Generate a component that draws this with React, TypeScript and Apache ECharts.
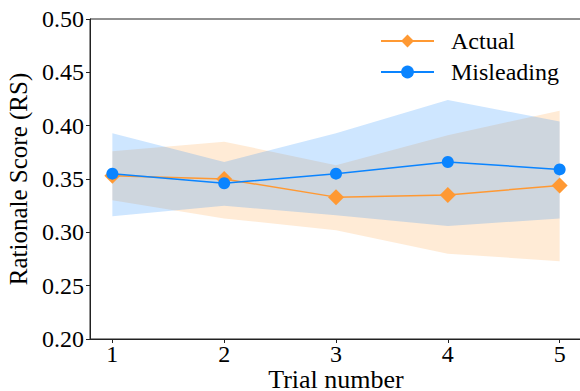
import React, { useEffect, useRef } from "react";
import * as echarts from "echarts";

const trials = [1, 2, 3, 4, 5];
const actual = [0.353, 0.35, 0.333, 0.335, 0.344];
const misleading = [0.355, 0.346, 0.355, 0.366, 0.359];
const actualLow = [0.33, 0.313, 0.302, 0.28, 0.273];
const actualHigh = [0.376, 0.385, 0.363, 0.391, 0.414];
const misLow = [0.315, 0.325, 0.316, 0.306, 0.313];
const misHigh = [0.393, 0.366, 0.393, 0.424, 0.404];
const yTicks = [0.2, 0.25, 0.3, 0.35, 0.4, 0.45, 0.5];

const ORANGE = "#ff9933";
const BLUE = "#0a84ff";
const FONT = "Times New Roman, serif";

function bandSeries(name: string, low: number[], high: number[], fill: string) {
  return {
    type: "custom",
    name,
    silent: true,
    data: trials.map((x, i) => [x, low[i], high[i]]),
    encode: { x: 0, y: [1, 2] },
    renderItem: (params: any, api: any) => {
      if (params.dataIndex !== 0) return null;
      const pts: number[][] = [];
      trials.forEach((x, i) => pts.push(api.coord([x, high[i]])));
      for (let i = trials.length - 1; i >= 0; i--) pts.push(api.coord([trials[i], low[i]]));
      return { type: "polygon", shape: { points: pts }, style: { fill } };
    },
    z: 1,
  };
}

export default function App() {
  const ref = useRef<HTMLDivElement>(null);
  useEffect(() => {
    if (!ref.current) return;
    const chart = echarts.init(ref.current, undefined, { renderer: "svg" });
    chart.setOption({
      animation: false,
      textStyle: { fontFamily: FONT },
      grid: {
        left: 90,
        top: 19,
        width: 492,
        height: 320,
        show: true,
        borderColor: "#222",
        borderWidth: 1,
        containLabel: false,
        outerBoundsMode: "none",
      },
      legend: {
        orient: "vertical",
        left: 380,
        top: 29,
        padding: 0,
        itemWidth: 53,
        itemHeight: 16,
        itemGap: 7,
        data: ["Actual", "Misleading"],
        textStyle: { fontSize: 24, fontFamily: FONT, color: "#000", padding: [0, 0, 0, 12] },
      },
      xAxis: {
        type: "value",
        min: 0.8,
        max: 5.2,
        name: "Trial number",
        nameLocation: "middle",
        nameGap: 27,
        nameMoveOverlap: false,
        nameTextStyle: { fontSize: 26, fontFamily: FONT, color: "#000", lineHeight: 26 },
        axisLine: { show: true, lineStyle: { color: "#222", width: 1 } },
        axisTick: { show: true, customValues: trials, length: 4, lineStyle: { color: "#222" } },
        axisLabel: {
          customValues: trials,
          fontSize: 24,
          fontFamily: FONT,
          color: "#000",
          margin: 3,
          formatter: (v: number) => String(v),
        },
        splitLine: { show: false },
      },
      yAxis: {
        type: "value",
        min: 0.2,
        max: 0.5,
        name: "Rationale Score (RS)",
        nameLocation: "middle",
        nameGap: 47,
        nameTextStyle: { fontSize: 25, fontFamily: FONT, color: "#000" },
        axisLine: { show: true, lineStyle: { color: "#222", width: 1 } },
        axisTick: { show: true, customValues: yTicks, length: 4, lineStyle: { color: "#222" } },
        axisLabel: {
          customValues: yTicks,
          fontSize: 24,
          fontFamily: FONT,
          color: "#000",
          margin: 6,
          formatter: (v: number) => v.toFixed(2),
        },
        splitLine: { show: false },
      },
      series: [
        bandSeries("ActualBand", actualLow, actualHigh, "rgba(255,153,51,0.2)"),
        bandSeries("MisBand", misLow, misHigh, "rgba(10,132,255,0.2)"),
        {
          type: "line",
          name: "Actual",
          data: trials.map((x, i) => [x, actual[i]]),
          symbol: "diamond",
          symbolSize: 16,
          lineStyle: { color: ORANGE, width: 1.5 },
          itemStyle: { color: ORANGE },
          z: 3,
        },
        {
          type: "line",
          name: "Misleading",
          data: trials.map((x, i) => [x, misleading[i]]),
          symbol: "circle",
          symbolSize: 12,
          lineStyle: { color: BLUE, width: 1.5 },
          itemStyle: { color: BLUE },
          z: 4,
        },
      ],
    });
    return () => chart.dispose();
  }, []);
  return (
    <div
      ref={ref}
      style={{ position: "absolute", left: 0, top: 0, width: 580, height: 391, background: "#fff" }}
    />
  );
}
